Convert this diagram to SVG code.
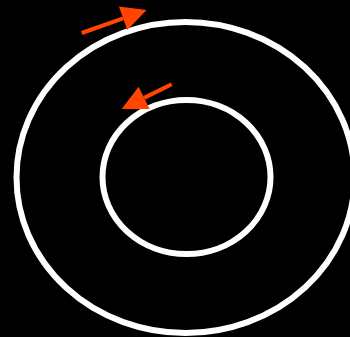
<svg xmlns="http://www.w3.org/2000/svg" width="350" height="337" viewBox="0 0 350 337">
<style>
.ring{fill:none;stroke:#fff;stroke-width:6}
.arr{stroke:#ff4500;stroke-width:4;fill:none}
</style>
<defs>
<marker id="head" markerUnits="userSpaceOnUse" markerWidth="26" markerHeight="26" refX="0" refY="12.5" orient="auto" overflow="visible">
<path d="M0,0 L25,12.5 L0,25 z" fill="#ff4500"/>
</marker>
</defs>
<rect width="350" height="337" fill="#000"/>
<g id="outer"><ellipse class="ring" cx="185.5" cy="177.5" rx="169" ry="155.5"/></g>
<g id="inner"><ellipse class="ring" cx="186.5" cy="177" rx="84" ry="77"/></g>
<g id="connectors">
<line class="arr" x1="81.7" y1="33" x2="123.1" y2="18.3" marker-end="url(#head)"/>
<line class="arr" x1="171.7" y1="84.3" x2="144.1" y2="97.9" marker-end="url(#head)"/>
</g>
</svg>
